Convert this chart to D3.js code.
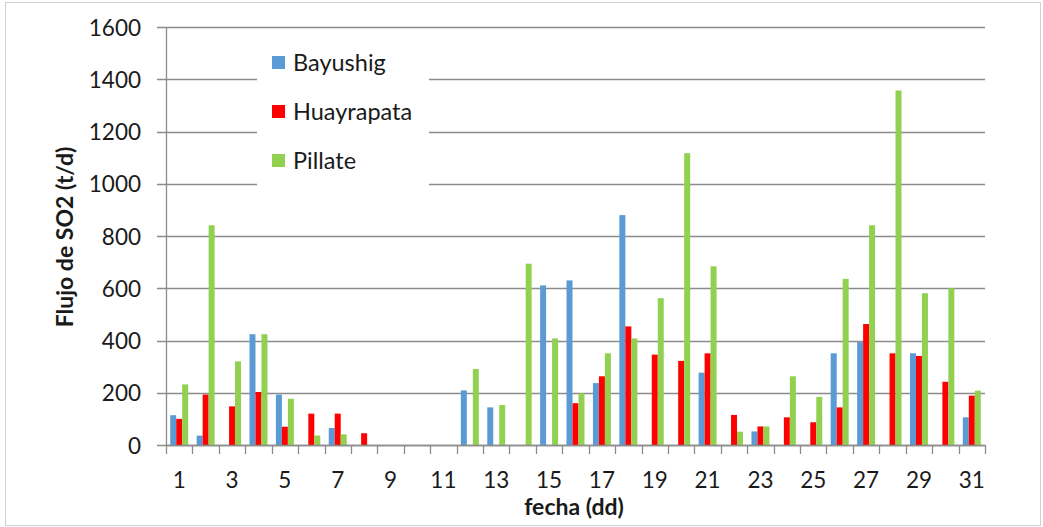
<!DOCTYPE html>
<html>
<head>
<meta charset="utf-8">
<script src="https://cdn.jsdelivr.net/npm/d3@7"></script>
<style>
  html, body { margin: 0; padding: 0; background: #fff; }
  svg { display: block; }
  text { font-family: Lato, "Open Sans", sans-serif; fill: #1a1a1a; }
</style>
</head>
<body>
<svg id="chart" width="1043" height="527"></svg>
<script>
// ---- data ----
const days = d3.range(1, 32);
const seriesNames = ["Bayushig", "Huayrapata", "Pillate"];
const seriesColors = ["#5B9BD5", "#FF0000", "#92D050"];
// null = no measurement
const bayushig = [114, 36, null, 424, 193, null, 65, null, null, null, null, 209, 144, null, 611, 630, 237, 880, null, null, 277, null, 52, null, null, 351, 394, null, 351, null, 106];
const huayrapata = [100, 193, 148, 203, 70, 120, 120, 45, null, null, null, null, null, null, null, 160, 263, 454, 346, 322, 351, 115, 71, 106, 87, 144, 463, 351, 341, 242, 189];
const pillate = [232, 841, 320, 424, 177, 36, 41, null, null, null, null, 291, 153, 694, 408, 198, 351, 408, 562, 1117, 684, 51, 71, 263, 184, 636, 841, 1357, 581, 600, 208];
const yTicks = [0, 200, 400, 600, 800, 1000, 1200, 1400, 1600];
const xTickLabels = days.filter(d => d % 2 === 1);
const yTitle = "Flujo de SO2 (t/d)";
const xTitle = "fecha (dd)";

const allSeries = [bayushig, huayrapata, pillate];

// ---- layout ----
const svg = d3.select("#chart");
const pL = 166, pR = 985, pT = 27, pB = 445;

svg.append("rect").attr("x", 5.5).attr("y", 2.5).attr("width", 1035).attr("height", 523)
  .attr("fill", "#fff").attr("stroke", "#d0d0d0").attr("stroke-width", 1);

const x0 = d3.scaleBand().domain(days).range([pL, pR]).paddingInner(0.32).paddingOuter(0.16);
const x1 = d3.scaleBand().domain(d3.range(3)).range([0, x0.bandwidth()]);
const y = d3.scaleLinear().domain([0, 1600]).range([pB, pT]);
const step = (pR - pL) / days.length;

// gridlines + y ticks
svg.append("g").selectAll("line").data(yTicks).join("line")
  .attr("x1", pL - 9).attr("x2", pR)
  .attr("y1", d => Math.round(y(d)) + 0.5).attr("y2", d => Math.round(y(d)) + 0.5)
  .attr("stroke", "#8c8c8c").attr("stroke-width", 1.3);

// y axis labels
const yAxis = d3.axisLeft(y).tickValues(yTicks).tickFormat(d3.format("d")).tickSize(0).tickPadding(0);
const ya = svg.append("g").attr("transform", `translate(${pL - 25},0)`).call(yAxis);
ya.select(".domain").remove();
ya.selectAll("text").attr("font-family", "Lato, 'Open Sans', sans-serif").attr("font-size", 22.5).attr("fill", "#1a1a1a").attr("dy", "0.36em");

// y axis line
svg.append("line").attr("x1", pL + 0.5).attr("x2", pL + 0.5).attr("y1", pT).attr("y2", pB)
  .attr("stroke", "#8c8c8c").attr("stroke-width", 1.3);

// bars
const groups = svg.append("g").selectAll("g").data(days).join("g")
  .attr("transform", d => `translate(${x0(d)},0)`);
groups.selectAll("rect")
  .data((d, i) => allSeries.map((s, k) => ({ k, v: s[i] })).filter(o => o.v != null))
  .join("rect")
  .attr("x", o => x1(o.k))
  .attr("width", x1.bandwidth())
  .attr("y", o => y(o.v))
  .attr("height", o => pB - y(o.v))
  .attr("fill", o => seriesColors[o.k]);

// x axis: ticks at category boundaries
const boundaries = d3.range(0, days.length + 1);
svg.append("g").selectAll("line").data(boundaries).join("line")
  .attr("x1", b => Math.round(pL + b * step) + 0.5).attr("x2", b => Math.round(pL + b * step) + 0.5)
  .attr("y1", pB).attr("y2", pB + 9)
  .attr("stroke", "#8c8c8c").attr("stroke-width", 1.3);
svg.append("line").attr("x1", pL).attr("x2", pR).attr("y1", pB + 0.5).attr("y2", pB + 0.5)
  .attr("stroke", "#8c8c8c").attr("stroke-width", 1.3);

const xa = d3.axisBottom(x0).tickValues(xTickLabels).tickSize(0).tickPadding(0);
const xg = svg.append("g").attr("transform", `translate(0,${pB + 27})`).call(xa);
xg.select(".domain").remove();
xg.selectAll("text").attr("font-family", "Lato, 'Open Sans', sans-serif").attr("font-size", 22.5).attr("fill", "#1a1a1a").attr("dy", "0.71em");

// axis titles
svg.append("text").attr("x", 574).attr("y", 515).attr("text-anchor", "middle")
  .attr("font-size", 23).attr("font-weight", "bold").text(xTitle);
svg.append("text").attr("transform", "translate(73,237) rotate(-90)").attr("text-anchor", "middle")
  .attr("font-size", 23).attr("font-weight", "bold").text(yTitle);

// legend
const lg = svg.append("g");
lg.append("rect").attr("x", 257).attr("y", 36).attr("width", 172).attr("height", 152).attr("fill", "#fff");
const items = lg.selectAll("g").data(seriesNames).join("g")
  .attr("transform", (d, i) => `translate(272,${63 + i * 49})`);
items.append("rect").attr("x", 0).attr("y", -7).attr("width", 13).attr("height", 13)
  .attr("fill", (d, i) => seriesColors[i]);
items.append("text").attr("x", 21).attr("y", 0).attr("dy", "0.36em").attr("font-size", 23.5).text(d => d);
</script>
</body>
</html>
